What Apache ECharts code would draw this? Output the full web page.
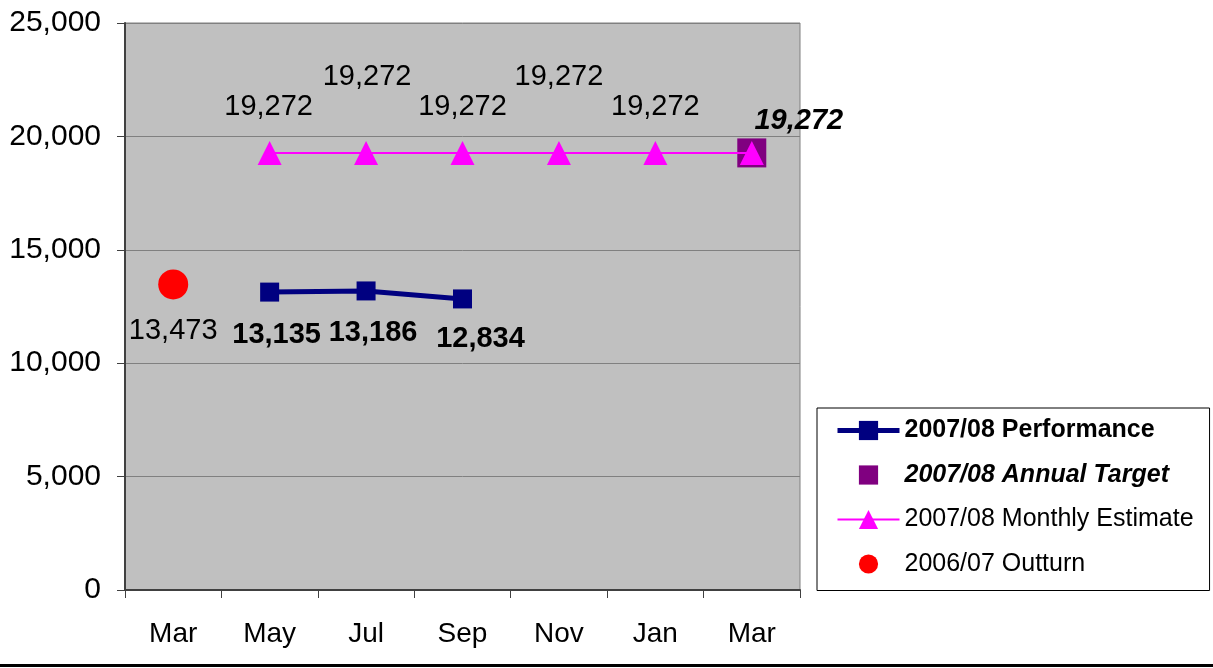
<!DOCTYPE html>
<html>
<head>
<meta charset="utf-8">
<script src="https://cdn.jsdelivr.net/npm/echarts@6/dist/echarts.min.js"></script>
<style>
  html, body { margin: 0; padding: 0; background: #fff; }
  #chart { width: 1213px; height: 668px; }
</style>
</head>
<body>
<div id="chart"></div>
<script>
var months = ['Mar', 'May', 'Jul', 'Sep', 'Nov', 'Jan', 'Mar'];
var performance = [null, 13135, 13186, 12834, null, null, null];
var annualTarget = [null, null, null, null, null, null, 19272];
var monthlyEstimate = [null, 19272, 19272, 19272, 19272, 19272, 19272];
var outturn = [13473, null, null, null, null, null, null];

// label offsets
var estOffsets = [null, [-1, -46], [1, -76], [0, -46], [0, -76], [0, -46], null];
var perfOffsets = [null, [7, 43], [7, 42], [18, 40], null, null, null];

function fmt(v) {
	return String(v).replace(/\B(?=(\d{3})+(?!\d))/g, ',');
}

var font = '"Liberation Sans", Arial, sans-serif';

var estData = monthlyEstimate.map(function (v, i) {
	if (v == null) return null;
	var o = estOffsets[i];
	return { value: v, label: { show: !!o, offset: o || [0, 0] } };
});
var perfData = performance.map(function (v, i) {
	if (v == null) return null;
	return { value: v, label: { offset: perfOffsets[i] } };
});

var chart = echarts.init(document.getElementById('chart'));

var option = {
	animation: false,
	backgroundColor: '#fff',
	grid: {
		left: 125, right: 413, top: 23, bottom: 78,
		show: true, backgroundColor: '#C0C0C0', borderColor: '#808080', borderWidth: 1
	},
	xAxis: {
		type: 'category',
		data: months,
		boundaryGap: true,
		axisLine: { lineStyle: { color: '#404040', width: 2 } },
		axisTick: { show: true, length: 8, lineStyle: { color: '#404040' } },
		axisLabel: { margin: 30, fontSize: 28, color: '#000', fontFamily: font },
		splitLine: { show: false }
	},
	yAxis: {
		type: 'value',
		min: 0, max: 25000, interval: 5000,
		axisLine: { show: true, lineStyle: { color: '#404040', width: 2 } },
		axisTick: { show: true, length: 8, lineStyle: { color: '#404040' } },
		axisLabel: { margin: 24, fontSize: 30, color: '#000', fontFamily: font, formatter: fmt },
		splitLine: { lineStyle: { color: '#808080', width: 1 } }
	},
	legend: {
		orient: 'vertical',
		left: 817, top: 408,
		itemWidth: 62, itemHeight: 24, itemGap: 19.5,
		padding: [10, 16, 14, 18],
		borderColor: '#000', borderWidth: 1,
		backgroundColor: '#fff',
		textStyle: { fontSize: 25, color: '#000', fontFamily: font },
		data: [
			{ name: '2007/08 Performance', textStyle: { fontWeight: 'bold' }, lineStyle: { width: 5 } },
			{ name: '2007/08 Annual Target', textStyle: { fontWeight: 'bold', fontStyle: 'italic' } },
			{ name: '2007/08 Monthly Estimate' },
			{ name: '2006/07 Outturn' }
		]
	},
	series: [
		{
			name: '2007/08 Performance',
			type: 'line',
			data: perfData,
			symbol: 'rect', symbolSize: 19,
			itemStyle: { color: '#000080' },
			lineStyle: { color: '#000080', width: 5 },
			z: 4,
			label: {
				show: true, position: 'inside', fontSize: 29, fontWeight: 'bold',
				color: '#000', fontFamily: font, formatter: function (p) { return fmt(p.value); }
			}
		},
		{
			name: '2007/08 Annual Target',
			type: 'line',
			data: annualTarget,
			symbol: 'rect', symbolSize: 29,
			itemStyle: { color: '#800080' },
			lineStyle: { width: 0 },
			z: 2,
			label: {
				show: true, position: 'inside', offset: [47, -32], fontSize: 29,
				fontWeight: 'bold', fontStyle: 'italic', color: '#000', fontFamily: font,
				formatter: function (p) { return fmt(p.value); }
			}
		},
		{
			name: '2007/08 Monthly Estimate',
			type: 'line',
			data: estData,
			symbol: 'triangle', symbolSize: 24,
			itemStyle: { color: '#FF00FF' },
			lineStyle: { color: '#FF00FF', width: 2 },
			z: 3,
			label: {
				position: 'inside', fontSize: 29, color: '#000', fontFamily: font,
				formatter: function (p) { return fmt(p.value); }
			}
		},
		{
			name: '2006/07 Outturn',
			type: 'line',
			data: outturn,
			symbol: 'circle', symbolSize: 30,
			itemStyle: { color: '#FF0000' },
			lineStyle: { width: 0 },
			z: 3,
			label: {
				show: true, position: 'inside', offset: [0, 47], fontSize: 29,
				color: '#000', fontFamily: font,
				formatter: function (p) { return fmt(p.value); }
			}
		}
	],
	graphic: [
		{ type: 'rect', shape: { x: 0, y: 664, width: 1213, height: 3 }, style: { fill: '#000' } }
	]
};

chart.setOption(option);
</script>
</body>
</html>
